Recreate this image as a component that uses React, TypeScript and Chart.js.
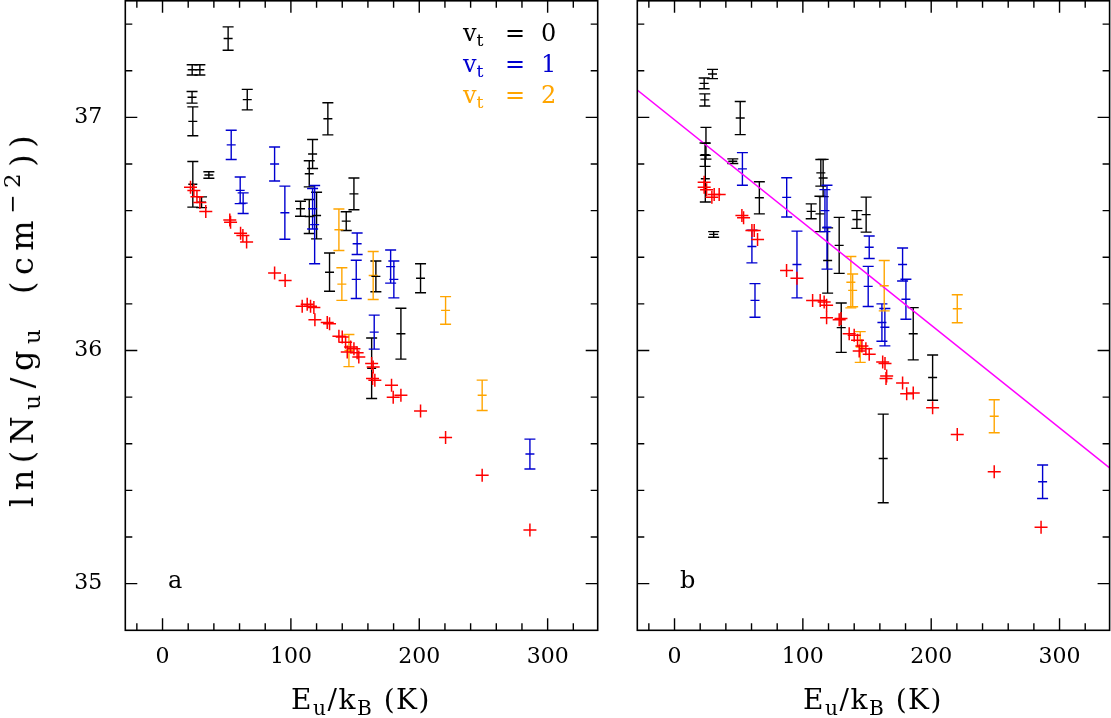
import React, { useEffect, useRef } from "react";
import { Chart, registerables } from "chart.js";

Chart.register(...registerables);

// ---------------- axes ----------------
const xLimits = [-29, 339];
const yLimits = [34.8, 37.5];
const xTickLabels = [0, 100, 200, 300];
const yTickLabels = [35, 36, 37];
const xMinorTicks = [-20, 20, 40, 60, 80, 120, 140, 160, 180, 220, 240, 260, 280, 320];
const yMinorTicks = [35.2, 35.4, 35.6, 35.8, 36.2, 36.4, 36.6, 36.8, 37.2, 37.4];

// ---------------- panel a: [E_u/k_B, ln(N_u/g_u), error] ----------------
const vt0PanelA: number[][] = [
  [51.1, 37.338, 0.05], [23.1, 37.204, 0.022], [29.1, 37.204, 0.022], [23.0, 37.086, 0.025],
  [23.6, 36.983, 0.062], [66.0, 37.076, 0.044], [128.8, 36.994, 0.069], [116.9, 36.843, 0.062],
  [114.3, 36.758, 0.056], [23.6, 36.713, 0.098], [36.1, 36.753, 0.014], [30.4, 36.636, 0.023],
  [149.1, 36.672, 0.068], [107.5, 36.608, 0.032], [114.3, 36.575, 0.073], [120.0, 36.579, 0.1],
  [143.1, 36.555, 0.04], [130.1, 36.336, 0.082], [166.2, 36.318, 0.066], [201.0, 36.31, 0.062],
  [162.9, 35.924, 0.13], [185.7, 36.072, 0.109],
];
const vt1PanelA: number[][] = [
  [53.5, 36.882, 0.063], [87.3, 36.8, 0.073], [60.5, 36.687, 0.057], [62.8, 36.632, 0.044],
  [95.3, 36.591, 0.114], [116.9, 36.608, 0.087], [118.5, 36.54, 0.168], [151.6, 36.458, 0.046],
  [150.9, 36.305, 0.082], [177.7, 36.36, 0.071], [180.2, 36.305, 0.079], [164.9, 36.079, 0.073],
  [286.2, 35.556, 0.064],
];
const vt2PanelA: number[][] = [
  [137.4, 36.518, 0.089], [139.7, 36.285, 0.07], [145.2, 36.0, 0.069], [164.1, 36.322, 0.103],
  [220.5, 36.172, 0.059], [249.0, 35.808, 0.065],
];
const corrPanelA: number[][] = [
  [21.8, 36.70], [24.4, 36.686], [26.8, 36.66], [29.1, 36.635], [33.7, 36.596], [52.4, 36.56],
  [53.0, 36.55], [60.8, 36.503], [62.6, 36.493], [65.5, 36.465], [87.3, 36.332], [95.5, 36.30],
  [108.8, 36.19], [112.7, 36.198], [115.3, 36.19], [117.9, 36.184], [118.7, 36.132], [128.3, 36.12],
  [130.1, 36.115], [137.4, 36.061], [140.0, 36.058], [142.6, 36.036], [146.5, 36.015], [149.1, 36.008],
  [151.6, 35.99], [152.9, 35.972], [143.9, 35.994], [162.9, 35.944], [164.1, 35.929], [165.4, 35.872],
  [163.6, 35.88], [178.4, 35.851], [179.7, 35.80], [185.7, 35.808], [201.0, 35.741], [220.5, 35.627],
  [249.0, 35.465], [286.2, 35.23],
];

// ---------------- panel b ----------------
const vt0PanelB: number[][] = [
  [29.6, 37.186, 0.02], [23.1, 37.146, 0.023], [23.6, 37.075, 0.026], [51.2, 36.997, 0.071],
  [24.5, 36.889, 0.068], [23.8, 36.84, 0.05], [24.0, 36.737, 0.1], [45.4, 36.812, 0.01],
  [30.5, 36.498, 0.012], [66.1, 36.655, 0.069], [114.0, 36.762, 0.057], [115.8, 36.74, 0.08],
  [106.5, 36.597, 0.032], [113.3, 36.586, 0.076], [142.1, 36.562, 0.038], [149.3, 36.583, 0.075],
  [128.3, 36.451, 0.12], [119.3, 36.386, 0.14], [129.9, 36.098, 0.106], [186.0, 36.072, 0.112],
  [201.1, 35.884, 0.097], [162.6, 35.537, 0.19],
];
const vt1PanelB: number[][] = [
  [52.9, 36.779, 0.07], [87.4, 36.657, 0.084], [60.3, 36.446, 0.07], [62.7, 36.215, 0.072],
  [95.4, 36.369, 0.143], [117.2, 36.6, 0.09], [118.8, 36.529, 0.18], [151.7, 36.443, 0.048],
  [150.9, 36.275, 0.086], [177.7, 36.369, 0.071], [180.3, 36.22, 0.086], [163.9, 36.1, 0.08],
  [161.6, 36.12, 0.08], [286.8, 35.437, 0.072],
];
const vt2PanelB: number[][] = [
  [137.4, 36.293, 0.11], [138.8, 36.258, 0.07], [163.4, 36.278, 0.108], [144.7, 36.015, 0.066],
  [220.3, 36.179, 0.06], [249.1, 35.718, 0.071],
];
const corrPanelB: number[][] = [
  [23.1, 36.722], [23.1, 36.70], [25.0, 36.69], [29.1, 36.657], [30.9, 36.669], [34.8, 36.669],
  [52.5, 36.579], [53.8, 36.569], [60.3, 36.515], [62.1, 36.515], [64.7, 36.476], [87.3, 36.343],
  [95.4, 36.31], [107.6, 36.215], [113.5, 36.215], [116.6, 36.208], [118.5, 36.194], [118.5, 36.141],
  [128.3, 36.132], [129.7, 36.137], [136.1, 36.072], [140.0, 36.065], [142.6, 36.044], [146.0, 36.019],
  [149.1, 36.008], [151.7, 35.984], [143.9, 35.998], [162.2, 35.951], [164.0, 35.944], [165.3, 35.891],
  [164.8, 35.88], [177.7, 35.861], [180.9, 35.815], [186.0, 35.818], [201.1, 35.755], [220.3, 35.64],
  [249.1, 35.48], [285.6, 35.242],
];

// rotational-diagram fit (panel b)
const fitE = [-29, 339];
const fitLnN = [37.117, 35.497];

const BLACK = "#000000";
const BLUE = "#0000d0";
const ORANGE = "#ffa500";
const RED = "#ff0000";
const MAGENTA = "#ff00ff";
const FONT = "'DejaVu Serif', serif";

const decorPlugin = {
  id: "decor",
  beforeDatasetsDraw(chart: any) {
    const { ctx, scales } = chart;
    const xs = scales.x;
    const ys = scales.y;
    ctx.save();
    ctx.beginPath();
    const a = chart.chartArea;
    ctx.rect(a.left, a.top, a.right - a.left, a.bottom - a.top);
    ctx.clip();
    chart.data.datasets.forEach((ds: any) => {
      if (!ds.errors) return;
      ctx.strokeStyle = ds.borderColor;
      ctx.lineWidth = 1.4;
      ds.data.forEach((p: any, j: number) => {
        const e = ds.errors[j];
        const px = xs.getPixelForValue(p.x);
        const y1 = ys.getPixelForValue(p.y - e);
        const y2 = ys.getPixelForValue(p.y + e);
        ctx.beginPath();
        ctx.moveTo(px, y1);
        ctx.lineTo(px, y2);
        ctx.moveTo(px - 5.5, y1);
        ctx.lineTo(px + 5.5, y1);
        ctx.moveTo(px - 5.5, y2);
        ctx.lineTo(px + 5.5, y2);
        ctx.stroke();
      });
    });
    ctx.restore();
  },
  afterDraw(chart: any) {
    const { ctx, chartArea: a, scales } = chart;
    const xs = scales.x;
    const ys = scales.y;
    ctx.save();
    ctx.strokeStyle = "#000";
    ctx.lineWidth = 1.6;
    ctx.strokeRect(a.left, a.top, a.right - a.left, a.bottom - a.top);
    ctx.lineWidth = 1.4;
    ctx.beginPath();
    const xt = (v: number, len: number) => {
      const px = xs.getPixelForValue(v);
      ctx.moveTo(px, a.bottom);
      ctx.lineTo(px, a.bottom - len);
      ctx.moveTo(px, a.top);
      ctx.lineTo(px, a.top + len);
    };
    const yt = (v: number, len: number) => {
      const py = ys.getPixelForValue(v);
      ctx.moveTo(a.left, py);
      ctx.lineTo(a.left + len, py);
      ctx.moveTo(a.right, py);
      ctx.lineTo(a.right - len, py);
    };
    xTickLabels.forEach((v) => xt(v, 12));
    xMinorTicks.forEach((v) => xt(v, 7));
    yTickLabels.forEach((v) => yt(v, 12));
    yMinorTicks.forEach((v) => yt(v, 7));
    ctx.stroke();
    ctx.restore();
  },
};

function errSet(rows: number[][], color: string) {
  return {
    type: "scatter",
    data: rows.map((r) => ({ x: r[0], y: r[1] })),
    errors: rows.map((r) => r[2]),
    borderColor: color,
    backgroundColor: color,
    pointStyle: "line",
    pointRadius: 4.5,
    pointBorderWidth: 1.4,
    pointBorderColor: color,
  };
}

function crossSet(rows: number[][]) {
  return {
    type: "scatter",
    data: rows.map((r) => ({ x: r[0], y: r[1] })),
    borderColor: RED,
    backgroundColor: RED,
    pointStyle: "cross",
    pointRadius: 6.5,
    pointBorderWidth: 1.5,
    pointBorderColor: RED,
  };
}

function zeroPad(s: any) {
  s.paddingTop = 0;
  s.paddingBottom = 0;
  s.paddingLeft = 0;
  s.paddingRight = 0;
}

function makeConfig(panel: "a" | "b") {
  const datasets: any[] =
    panel === "a"
      ? [crossSet(corrPanelA), errSet(vt0PanelA, BLACK), errSet(vt1PanelA, BLUE), errSet(vt2PanelA, ORANGE)]
      : [crossSet(corrPanelB), errSet(vt0PanelB, BLACK), errSet(vt1PanelB, BLUE), errSet(vt2PanelB, ORANGE)];
  if (panel === "b") {
    datasets.push({
      type: "line",
      data: fitE.map((x, i) => ({ x, y: fitLnN[i] })),
      borderColor: MAGENTA,
      borderWidth: 1.5,
      pointRadius: 0,
      fill: false,
    });
  }
  const left = panel === "a";
  return {
    type: "scatter",
    data: { datasets },
    options: {
      animation: false,
      responsive: false,
      maintainAspectRatio: false,
      events: [],
      layout: {
        autoPadding: false,
        padding: left
          ? { left: 0, right: 19.3, top: 0.8, bottom: 0 }
          : { left: 20.3, right: 1.4, top: 0.8, bottom: 0 },
      },
      plugins: { legend: { display: false }, tooltip: { enabled: false } },
      scales: {
        x: {
          type: "linear",
          min: xLimits[0],
          max: xLimits[1],
          grid: { display: false, drawTicks: false },
          border: { display: false },
          ticks: { color: "#000", font: { family: FONT, size: 22 }, padding: 14, maxRotation: 0 },
          afterBuildTicks: (s: any) => {
            s.ticks = xTickLabels.map((v) => ({ value: v }));
          },
          afterFit: (s: any) => {
            s.height = 87.7;
            zeroPad(s);
          },
        },
        y: {
          type: "linear",
          display: left,
          min: yLimits[0],
          max: yLimits[1],
          grid: { display: false, drawTicks: false },
          border: { display: false },
          ticks: { color: "#000", font: { family: FONT, size: 22 }, padding: 23 },
          afterBuildTicks: (s: any) => {
            s.ticks = yTickLabels.map((v) => ({ value: v }));
          },
          afterFit: (s: any) => {
            s.width = left ? 125.3 : 0;
            zeroPad(s);
          },
        },
      },
    },
    plugins: [decorPlugin],
  };
}

function Panel({ panel, left, width }: { panel: "a" | "b"; left: number; width: number }) {
  const ref = useRef<HTMLCanvasElement | null>(null);
  useEffect(() => {
    if (!ref.current) return;
    const chart = new Chart(ref.current, makeConfig(panel) as any);
    return () => chart.destroy();
  }, [panel]);
  return (
    <canvas
      ref={ref}
      width={width}
      height={718}
      style={{ position: "absolute", left, top: 0, width, height: 718 }}
    />
  );
}

const txt: React.CSSProperties = {
  position: "absolute",
  fontFamily: FONT,
  fontSize: 24,
  lineHeight: "1",
  whiteSpace: "nowrap",
  color: "#000",
};
const sub: React.CSSProperties = { fontSize: "0.72em", verticalAlign: "-0.3em", lineHeight: "0" };
const sup: React.CSSProperties = { fontSize: "0.72em", verticalAlign: "0.55em", lineHeight: "0" };

function XTitle({ cx }: { cx: number }) {
  return (
    <div style={{ ...txt, fontSize: 28, left: cx, top: 686, transform: "translateX(-50%)", letterSpacing: "1.5px" }}>
      E<span style={sub}>u</span>/k<span style={sub}>B</span> (K)
    </div>
  );
}

function LegendRow({ top, color, label }: { top: number; color: string; label: string }) {
  return (
    <div style={{ ...txt, left: 463, top, color }}>
      <span style={{ display: "inline-block", width: 42 }}>
        v<span style={sub}>t</span>
      </span>
      <span style={{ display: "inline-block", width: 36 }}>=</span>
      <span>{label}</span>
    </div>
  );
}

export default function App() {
  return (
    <div style={{ position: "absolute", left: 0, top: 0, width: 1111, height: 718, background: "#fff", overflow: "hidden" }}>
      <Panel panel="a" left={0} width={617} />
      <Panel panel="b" left={617} width={494} />
      <div
        style={{
          ...txt,
          fontSize: 32,
          left: 22,
          top: 318,
          transform: "translate(-50%, -50%) rotate(-90deg)",
          letterSpacing: "6.5px",
          wordSpacing: "12px",
        }}
      >
        ln(N<span style={sub}>u</span>/g<span style={sub}>u</span> (cm<span style={sup}>−2</span>))
      </div>
      <XTitle cx={361} />
      <XTitle cx={873} />
      <LegendRow top={21} color={BLACK} label="0" />
      <LegendRow top={52} color={BLUE} label="1" />
      <LegendRow top={83} color={ORANGE} label="2" />
      <div style={{ ...txt, left: 168, top: 568 }}>a</div>
      <div style={{ ...txt, left: 680, top: 568 }}>b</div>
    </div>
  );
}
